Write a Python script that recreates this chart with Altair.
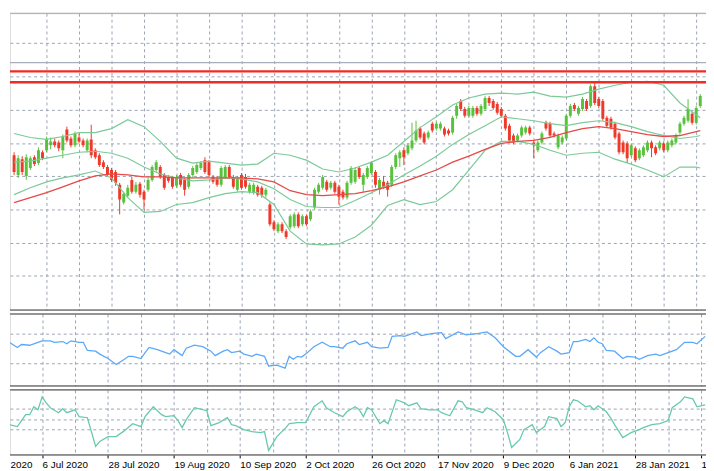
import json
import altair as alt
import pandas as pd

# ---------------- data ----------------
bar_open = [155,135,151,134,142,153,147,158,160,165,
            169,168,160,181,172,165,173,170,160,171,
            160,155,148,143,140,138,125,107,114,130,
            118,126,118,120,130,140,143,135,133,132,
            124,135,130,123,135,138,142,150,148,133,
            132,125,133,143,133,120,135,133,118,117,
            123,122,115,105,87,78,85,78,82,83,
            95,85,93,90,102,118,122,128,122,127,
            123,118,112,127,128,142,125,133,137,138,
            120,128,127,125,143,152,160,157,162,170,
            182,177,173,187,182,182,182,180,178,195,
            210,202,195,195,203,197,202,213,210,207,
            202,195,185,175,170,175,178,183,168,160,
            168,188,187,177,163,168,172,195,206,197,
            202,210,205,225,212,210,193,192,187,177,
            168,167,155,162,152,155,160,168,163,162,
            167,160,165,168,178,187,190,197,188,205]
bar_high = [158,155,154,156,154,155,163,160,174,173,
            172,170,176,184,174,179,177,172,172,186,
            162,157,150,145,142,140,127,118,125,133,
            128,128,120,132,145,150,145,137,135,134,
            135,137,132,137,144,147,149,153,150,135,
            134,144,145,145,135,134,137,136,127,127,
            125,124,122,107,89,87,87,80,95,97,
            97,95,95,100,122,127,135,130,129,129,
            125,120,129,144,143,144,137,144,149,140,
            132,134,129,145,157,160,163,167,188,190,
            184,179,180,189,189,189,184,182,195,207,
            212,204,205,205,205,207,215,215,212,209,
            204,197,187,177,177,185,185,185,170,170,
            179,190,189,179,177,175,197,207,208,205,
            214,212,227,228,214,212,195,194,189,179,
            170,169,167,164,162,165,170,170,165,170,
            169,170,172,177,189,195,212,199,205,217]
bar_low = [135,132,135,130,140,144,145,150,158,161,
           163,159,152,168,163,163,167,163,158,152,
           151,143,141,133,128,124,95,105,112,116,
           116,112,100,118,128,138,131,120,127,121,
           122,123,114,121,133,136,140,136,133,126,
           123,123,131,131,121,118,120,121,116,115,
           113,112,112,83,78,76,76,70,80,81,
           81,83,83,88,100,116,120,118,120,116,
           105,110,110,125,126,131,118,131,135,122,
           115,121,113,123,141,143,145,155,160,168,
           171,166,171,178,180,180,174,175,176,192,
           200,193,193,193,195,195,200,205,201,196,
           193,180,168,166,168,173,176,175,152,158,
           166,180,173,173,161,166,170,193,200,195,
           200,200,203,206,203,190,183,181,171,156,
           156,147,153,148,150,153,158,153,155,160,
           158,158,163,166,176,185,188,186,186,203]
bar_close = [138,152,138,153,152,146,160,152,171,169,
             165,162,174,170,165,177,169,165,170,155,
             153,145,143,135,130,127,110,116,122,118,
             125,115,110,130,143,148,133,122,129,123,
             133,125,120,135,142,145,147,138,135,128,
             125,142,143,133,123,132,122,123,125,125,
             115,115,120,85,80,85,78,72,93,95,
             83,93,85,98,120,125,133,120,127,118,
             113,112,127,142,140,133,135,142,147,125,
             130,123,120,143,155,158,153,165,170,180,
             173,168,178,180,187,187,176,177,193,205,
             202,195,203,203,197,205,213,208,203,198,
             195,182,170,168,175,183,183,177,165,168,
             177,182,175,175,175,173,195,205,202,203,
             212,202,225,208,205,192,185,183,173,158,
             158,152,165,150,160,163,168,162,157,168,
             160,168,170,175,187,193,202,188,203,215]

# Bollinger bands and red moving average, sampled every 4 bars
band_bar = list(range(0, 169, 4)) + [169]
upper_band = [177,173,171,174,178,178,182,191,184,169,152,147,149,147,145,
              146,157,155,150,141,138,142,148,155,169,183,194,206,213,217,
              218,217,219,215,214,217,222,226,229,230,226,208,196,193]
middle_band = [148,149,152,155,158,159,157,152,143,136,132,129,130,132,131,
               128,121,110,103,102,102,109,117,125,135,144,154,166,176,185,
               194,192,190,187,185,188,190,188,184,179,175,172,174,175]
lower_band = [115,122,128,132,135,139,132,112,97,98,105,107,112,116,118,
              117,105,78,65,64,65,72,84,104,110,105,108,120,140,160,
              169,169,166,160,155,157,158,151,146,140,133,143,143,142]
red_ma = [107,112,117,123,129,134,136,135,133,133,132,132,132,132,132,
          131,128,119,115,114,115,116,119,123,128,134,140,148,154,161,
          167,169,170,173,178,182,184,182,179,176,174,175,179,180]

# horizontal line objects on the price chart
gray_levels = [249]
red_levels = [240, 229]
price_grid = [33, 66, 100, 134, 167, 201, 235, 269]

# RSI sub-window
rsi_bar = [0,2,3,5,7,8,10,11,13,14,15,17,18,19,21,22,24,26,28,29,30,32,33,34,36,38,39,40,41,42,
           43,45,47,49,50,52,53,54,56,57,59,60,62,63,65,67,68,69,70,71,72,74,76,78,79,81,82,84,85,87,
           88,90,92,93,95,96,99,100,103,105,106,109,111,114,116,118,120,123,124,126,128,129,131,133,134,
           136,137,138,140,141,142,143,144,145,147,149,150,152,153,155,157,158,160,162,164,166,167,169]
rsi_val = [59,52,56,55,59,61,61,59,60,57,61,59,59,48,47,43,37,29,36,40,40,37,45,52,49,45,43,49,45,41,
           51,55,53,47,41,47,49,45,47,43,40,43,40,27,28,24,40,36,40,39,43,53,59,53,53,51,57,61,56,59,
           53,51,52,67,68,67,73,68,71,72,64,73,69,71,73,65,53,40,40,49,39,45,53,47,43,
           45,60,60,63,60,65,59,57,48,47,37,40,39,36,41,43,41,45,49,59,59,57,67]
rsi_levels = [30, 70]

# CCI sub-window
cci_bar = [0,2,3,4,5,6,7,8,9,10,12,13,14,16,17,19,21,22,24,26,28,30,32,33,35,37,38,40,41,42,
           43,45,46,48,49,51,53,54,55,57,59,61,62,63,65,67,68,70,72,74,76,77,79,81,82,84,85,86,87,88,
           90,91,92,94,96,97,99,100,102,104,105,107,109,110,111,113,115,116,118,120,
           121,122,124,125,127,128,130,131,133,134,135,136,137,138,140,141,142,143,145,146,
           147,149,151,153,154,156,158,160,161,163,164,166,167,169]
cci_val = [-52,-71,-14,43,43,119,90,214,157,110,62,100,62,90,24,14,-262,-214,-167,-167,
           -110,-43,-71,24,119,43,24,33,-14,-81,-5,110,100,81,-62,-33,14,-52,-62,-100,
           -119,-129,-119,-300,-167,-90,-43,-33,-33,119,176,110,62,24,71,119,90,24,110,90,
           -43,-14,-43,186,157,129,157,100,90,90,62,33,176,167,110,90,62,110,71,-5,
           -129,-271,-195,-100,-52,-129,-71,24,5,-71,-33,119,186,176,119,129,90,129,71,14,
           -52,-176,-129,-100,-81,-52,-43,-14,110,167,214,195,119,138]
cci_levels = [-100, 0, 100]

# time axis
grid_bars = list(range(8, 169, 8))
date_labels = ["6 Jul 2020", "28 Jul 2020", "19 Aug 2020", "10 Sep 2020", "2 Oct 2020",
               "26 Oct 2020", "17 Nov 2020", "9 Dec 2020", "6 Jan 2021", "28 Jan 2021",
               "19 Feb 2021"]
edge_label = "2020"

# ---------------- styling ----------------
X_MIN, X_MAX = 0.2, 169.2
W = 706
H_MAIN, H_RSI, H_CCI = 301, 73, 66
BULL = "#58c23c"
BEAR = "#ee3a2b"
BAND = "#7cca98"
MA_C = "#e64a46"
LEVEL_RED = "#f02a26"
LEVEL_GRAY = "#a8afba"
RSI_C = "#5ca8f8"
CCI_C = "#68c9ae"
GRID = "#9aa3b4"
FRAME = "#3a3a3a"
TOPLINE = "#a3a3a3"
FONT = "Liberation Sans"

bars = pd.DataFrame({"bar": list(range(len(bar_open))), "open": bar_open,
                     "high": bar_high, "low": bar_low, "close": bar_close})
bars["dir"] = ["up" if c >= o else "down" for o, c in zip(bar_open, bar_close)]

n = len(band_bar)
bands = pd.DataFrame({"bar": band_bar * 3,
                      "price": upper_band + middle_band + lower_band,
                      "band": ["upper"] * n + ["middle"] * n + ["lower"] * n})
ma_df = pd.DataFrame({"bar": band_bar, "price": red_ma})
gray_df = pd.DataFrame({"price": gray_levels})
red_df = pd.DataFrame({"price": red_levels})
rsi_df = pd.DataFrame({"bar": rsi_bar, "rsi": rsi_val})
cci_df = pd.DataFrame({"bar": cci_bar, "cci": cci_val})
frame_df = pd.DataFrame({"edge": ["frame"]})

x_scale = alt.Scale(domain=[X_MIN, X_MAX], nice=False, zero=False)
x_grid_axis = alt.Axis(values=grid_bars, grid=True, gridColor=GRID, gridDash=[3, 3],
                       gridWidth=1, labels=False, ticks=False, domain=False, title=None)


def y_axis(levels):
    return alt.Axis(values=levels, grid=True, gridColor=GRID, gridDash=[3, 3], gridWidth=1,
                    labels=False, ticks=False, domain=False, title=None)


def hline(color, pos, width=1):
    return alt.Chart(frame_df).mark_rule(color=color, strokeWidth=width).encode(y=alt.value(pos))


dir_color = alt.Color("dir:N", scale=alt.Scale(domain=["up", "down"], range=[BULL, BEAR]),
                      legend=None)

# ---- main price window ----
y_main = alt.Scale(domain=[-2, 299], nice=False, zero=False)
ax_main = y_axis(price_grid)
Xm = alt.X("bar:Q", scale=x_scale, axis=x_grid_axis)

wicks = alt.Chart(bars).mark_rule(strokeWidth=1, clip=True).encode(
    x=Xm, y=alt.Y("low:Q", scale=y_main, axis=ax_main), y2="high:Q", color=dir_color)
bodies = alt.Chart(bars).mark_bar(size=3, clip=True).encode(
    x=Xm, y=alt.Y("open:Q", scale=y_main, axis=ax_main), y2="close:Q", color=dir_color)
band_lines = alt.Chart(bands).mark_line(color=BAND, strokeWidth=1.2, clip=True).encode(
    x=Xm, y=alt.Y("price:Q", scale=y_main, axis=ax_main), detail="band:N")
ma_line = alt.Chart(ma_df).mark_line(color=MA_C, strokeWidth=1.3, clip=True).encode(
    x=Xm, y=alt.Y("price:Q", scale=y_main, axis=ax_main))
gray_line = alt.Chart(gray_df).mark_rule(color=LEVEL_GRAY, strokeWidth=1.3).encode(
    y=alt.Y("price:Q", scale=y_main, axis=ax_main))
red_lines = alt.Chart(red_df).mark_rule(color=LEVEL_RED, strokeWidth=2.4).encode(
    y=alt.Y("price:Q", scale=y_main, axis=ax_main))

main = alt.layer(wicks, bodies, band_lines, ma_line, gray_line, red_lines,
                 hline(TOPLINE, 0), hline(FRAME, H_MAIN)).properties(width=W, height=H_MAIN)

# ---- RSI window ----
y_rsi = alt.Scale(domain=[0, 97.3], nice=False, zero=False)
rsi_line = alt.Chart(rsi_df).mark_line(color=RSI_C, strokeWidth=1.3, clip=True).encode(
    x=alt.X("bar:Q", scale=x_scale, axis=x_grid_axis),
    y=alt.Y("rsi:Q", scale=y_rsi, axis=y_axis(rsi_levels)))
rsi = alt.layer(rsi_line, hline(FRAME, 0), hline(FRAME, H_RSI)).properties(width=W, height=H_RSI)

# ---- CCI window with the time axis ----
grid_labels = [date_labels[(v - 8) // 16] if (v - 8) % 16 == 0 else "" for v in grid_bars]
label_expr = ("datum.value < 1 ? " + json.dumps(edge_label) + " : " +
              json.dumps(grid_labels) + "[round((datum.value - 8) / 8)]")
bottom_axis = alt.Axis(
    values=[X_MIN] + grid_bars, grid=True, gridColor=GRID, gridDash=[3, 3], gridWidth=1,
    gridOpacity={"condition": {"test": "datum.value < 1", "value": 0}, "value": 1},
    ticks=True, tickSize=3, tickColor="#000000",
    tickOpacity={"condition": {"test": "datum.value >= 1 && (datum.value - 8) % 16 == 0",
                               "value": 1}, "value": 0},
    domain=False, labelExpr=label_expr, labelAlign="left", labelBaseline="top",
    labelPadding=2, labelFont=FONT, labelFontSize=10, labelColor="#000000",
    labelFlush=False, labelOverlap=False, labelAngle=0, title=None)
y_cci = alt.Scale(domain=[-343, 281], nice=False, zero=False)
cci_line = alt.Chart(cci_df).mark_line(color=CCI_C, strokeWidth=1.3, clip=True).encode(
    x=alt.X("bar:Q", scale=x_scale, axis=bottom_axis),
    y=alt.Y("cci:Q", scale=y_cci, axis=y_axis(cci_levels)))
cci = alt.layer(cci_line, hline(FRAME, 0), hline(FRAME, H_CCI)).properties(width=W, height=H_CCI)

# the last date label runs past the window edge, as in the cropped original
chart = alt.vconcat(main, rsi, cci, spacing=2).properties(
    padding={"left": 0, "top": 1, "right": -52, "bottom": 0}
).configure_view(strokeWidth=0).configure(background="#ffffff")

chart.save("out.html", embed_options={"renderer": "svg", "actions": False})
